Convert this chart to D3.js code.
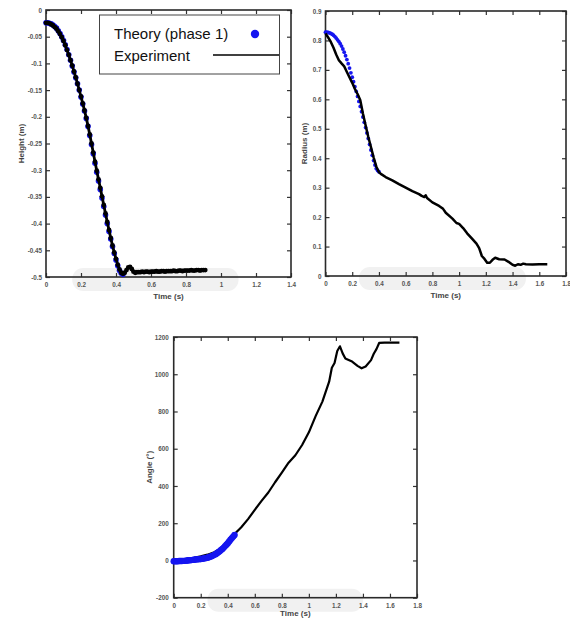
<!DOCTYPE html>
<html>
<head>
<meta charset="utf-8">
<script src="https://cdn.jsdelivr.net/npm/d3@7"></script>
<style>
body { margin: 0; background: #fff; }
text { font-family: "Liberation Sans", Arial, sans-serif; }
</style>
</head>
<body>
<svg id="fig"></svg>
<script>
// ---- data: [time (s), value] ----
var heightTheory = [
  [0,-.024],[.01,-.024],[.02,-.025],[.03,-.026],[.04,-.028],[.05,-.031],[.06,-.034],[.07,-.039],
  [.08,-.044],[.09,-.050],[.10,-.057],[.11,-.065],[.12,-.074],[.13,-.084],[.14,-.094],[.15,-.105],
  [.16,-.116],[.17,-.127],[.18,-.138],[.19,-.150],[.20,-.163],[.21,-.176],[.22,-.189],[.23,-.203],
  [.24,-.218],[.25,-.235],[.26,-.252],[.27,-.269],[.28,-.287],[.29,-.304],[.30,-.320],[.31,-.336],
  [.32,-.352],[.33,-.368],[.34,-.384],[.35,-.400],[.36,-.415],[.37,-.429],[.38,-.443],[.39,-.456],
  [.40,-.468],[.41,-.479],[.42,-.488],[.43,-.493],[.44,-.495]
];
var heightExperiment = [
  [0,-.024],[.01,-.024],[.02,-.025],[.03,-.027],[.04,-.029],[.05,-.032],[.06,-.035],[.07,-.040],
  [.08,-.045],[.09,-.051],[.10,-.058],[.11,-.066],[.12,-.075],[.13,-.084],[.14,-.094],[.15,-.104],
  [.16,-.115],[.17,-.126],[.18,-.138],[.19,-.150],[.20,-.162],[.21,-.175],[.22,-.188],[.23,-.202],
  [.24,-.217],[.25,-.233],[.26,-.250],[.27,-.267],[.28,-.284],[.29,-.301],[.30,-.317],[.31,-.333],
  [.32,-.349],[.33,-.365],[.34,-.381],[.35,-.397],[.36,-.412],[.37,-.427],[.38,-.441],[.39,-.454],
  [.40,-.466],[.41,-.477],[.42,-.486],[.43,-.492],[.44,-.494],[.45,-.492],[.46,-.487],[.47,-.482],
  [.48,-.481],[.49,-.485],[.50,-.490],[.51,-.492],[.52,-.491],[.53,-.491],[.54,-.491],[.55,-.490],
  [.56,-.491],[.57,-.490],[.58,-.490],[.59,-.491],[.60,-.490],[.61,-.490],[.62,-.490],[.63,-.489],
  [.64,-.490],[.65,-.490],[.66,-.489],[.67,-.489],[.68,-.490],[.69,-.489],[.70,-.489],[.71,-.489],
  [.72,-.489],[.73,-.488],[.74,-.489],[.75,-.489],[.76,-.488],[.77,-.488],[.78,-.489],[.79,-.488],
  [.80,-.488],[.81,-.488],[.82,-.488],[.83,-.487],[.84,-.488],[.85,-.488],[.86,-.487],[.87,-.487],
  [.88,-.488],[.89,-.487],[.90,-.487],[.91,-.487]
];

var radiusTheory = [
  [0,.828],[.01,.828],[.02,.827],[.03,.826],[.04,.824],[.05,.821],[.06,.818],[.07,.813],[.08,.808],
  [.09,.802],[.10,.796],[.11,.789],[.12,.781],[.13,.771],[.14,.760],[.15,.748],[.16,.735],[.17,.721],
  [.18,.706],[.19,.690],[.20,.675],[.21,.660],[.22,.643],[.23,.627],[.24,.610],[.25,.593],[.26,.576],
  [.27,.558],[.28,.540],[.29,.522],[.30,.504],[.31,.486],[.32,.467],[.33,.447],[.34,.428],[.35,.410],
  [.36,.392],[.37,.377],[.38,.365],[.39,.358],[.40,.354]
];
var radiusExperiment = [
  [0,.824],[.02,.810],[.04,.795],[.06,.775],[.08,.752],[.10,.733],[.12,.722],[.14,.712],[.16,.693],
  [.18,.674],[.20,.656],[.22,.635],[.24,.618],[.26,.598],[.28,.552],[.30,.512],[.32,.473],[.34,.438],
  [.36,.403],[.38,.372],[.40,.352],[.42,.345],[.45,.336],[.50,.325],[.55,.312],[.60,.300],[.65,.288],
  [.70,.278],[.72,.272],[.74,.268],[.75,.274],[.76,.265],[.80,.250],[.85,.238],[.88,.228],[.90,.215],
  [.95,.195],[.98,.180],[1.0,.177],[1.03,.163],[1.06,.145],[1.10,.125],[1.13,.110],[1.15,.095],
  [1.17,.068],[1.19,.058],[1.21,.045],[1.23,.045],[1.25,.055],[1.27,.062],[1.30,.057],[1.34,.056],
  [1.37,.048],[1.40,.038],[1.42,.035],[1.44,.040],[1.46,.038],[1.48,.042],[1.50,.040],[1.55,.039],
  [1.60,.040],[1.66,.040]
];

var angleTheory = [
  [0,-4],[.01,-4],[.02,-4],[.03,-4],[.04,-3],[.05,-3],[.06,-3],[.07,-2],[.08,-2],[.09,-1],[.10,0],
  [.11,1],[.12,1],[.13,2],[.14,3],[.15,4],[.16,5],[.17,6],[.18,6],[.19,7],[.20,8],[.21,9],[.22,10],
  [.23,12],[.24,13],[.25,15],[.26,17],[.27,20],[.28,23],[.29,26],[.30,30],[.31,34],[.32,39],[.33,44],
  [.34,50],[.35,56],[.36,62],[.37,69],[.38,77],[.39,85],[.40,93],[.41,102],[.42,111],[.43,120],
  [.44,128],[.45,137]
];
var angleExperiment = [
  [0,5],[.05,6],[.10,9],[.15,14],[.20,22],[.25,31],[.30,44],[.35,65],[.40,99],[.45,142],[.50,178],
  [.55,222],[.60,272],[.65,320],[.70,365],[.75,420],[.80,472],[.85,525],[.90,565],[.95,620],
  [1.0,688],[1.05,775],[1.10,853],[1.15,960],[1.17,1035],[1.19,1060],[1.21,1125],[1.23,1150],
  [1.25,1112],[1.27,1085],[1.29,1078],[1.32,1068],[1.36,1045],[1.39,1032],[1.42,1042],[1.46,1076],
  [1.48,1110],[1.50,1135],[1.52,1168],[1.56,1170],[1.60,1170],[1.67,1170]
];

var timeTicksShort = [0, 0.2, 0.4, 0.6, 0.8, 1, 1.2, 1.4];
var timeTicksLong = [0, 0.2, 0.4, 0.6, 0.8, 1, 1.2, 1.4, 1.6, 1.8];
var heightTicks = [0, -0.05, -0.1, -0.15, -0.2, -0.25, -0.3, -0.35, -0.4, -0.45, -0.5];
var radiusTicks = [0, 0.1, 0.2, 0.3, 0.4, 0.5, 0.6, 0.7, 0.8, 0.9];
var angleTicks = [-200, 0, 200, 400, 600, 800, 1000, 1200];

var legendLabels = ["Theory (phase 1)", "Experiment"];

var svg = d3.select("#fig")
    .attr("width", 570)
    .attr("height", 618);

function drawPanel(p) {
    var x = d3.scaleLinear().domain(p.xDomain).range([p.left, p.right]);
    var y = d3.scaleLinear().domain(p.yDomain).range([p.bottom, p.top]);
    var g = svg.append("g");

    // faint grey band under the time axis (as in the scanned figure)
    g.append("rect")
        .attr("x", x(p.band[0]))
        .attr("width", x(p.band[1]) - x(p.band[0]))
        .attr("y", p.bottom - 9)
        .attr("height", 23)
        .attr("rx", 11)
        .attr("fill", "#f1f1f1");

    var axes = [
        {ax: d3.axisBottom(x).tickValues(p.xTicks), t: "translate(0," + p.bottom + ")", lab: true},
        {ax: d3.axisTop(x).tickValues(p.xTicks), t: "translate(0," + p.top + ")", lab: false},
        {ax: d3.axisLeft(y).tickValues(p.yTicks), t: "translate(" + p.left + ",0)", lab: true},
        {ax: d3.axisRight(y).tickValues(p.yTicks), t: "translate(" + p.right + ",0)", lab: false}
    ];
    axes.forEach(function (a, i) {
        a.ax.tickSizeInner(-4).tickSizeOuter(0)
            .tickPadding(i === 2 ? p.yPad : 6)
            .tickFormat(a.lab ? function (d) { return String(d); } : "");
        var ag = g.append("g").attr("transform", a.t).call(a.ax);
        ag.select(".domain").remove();
        ag.selectAll(".tick line").attr("stroke", "#333").attr("stroke-width", 1.2);
        ag.selectAll(".tick text")
            .attr("fill", "#555")
            .attr("font-size", 6.3)
            .attr("font-weight", "bold");
    });

    g.append("rect")
        .attr("x", p.left).attr("y", p.top)
        .attr("width", p.right - p.left).attr("height", p.bottom - p.top)
        .attr("fill", "none")
        .attr("stroke", "#2a2a2a")
        .attr("stroke-width", 1.6);

    g.append("text")
        .attr("x", (p.left + p.right) / 2)
        .attr("y", p.bottom + p.xLabelDy)
        .attr("text-anchor", "middle")
        .attr("font-size", 8)
        .attr("font-weight", "bold")
        .attr("fill", "#444")
        .text("Time (s)");

    g.append("text")
        .attr("transform", "translate(" + p.yLabelX + "," + ((p.top + p.bottom) / 2) + ") rotate(-90)")
        .attr("text-anchor", "middle")
        .attr("font-size", 8)
        .attr("font-weight", "bold")
        .attr("fill", "#444")
        .text(p.yLabel);

    var line = d3.line()
        .x(function (d) { return x(d[0]); })
        .y(function (d) { return y(d[1]); });

    function drawTheory() {
        if (p.theoryBand) {
            g.append("path")
                .datum(p.theory)
                .attr("d", line)
                .attr("fill", "none")
                .attr("stroke", "#1a1aee")
                .attr("stroke-width", p.theoryBand)
                .attr("stroke-linecap", "round");
        }
        g.selectAll(null)
            .data(p.theory)
            .enter().append("circle")
            .attr("cx", function (d) { return x(d[0]); })
            .attr("cy", function (d) { return y(d[1]); })
            .attr("r", p.dotR)
            .attr("fill", "#1515f0");
    }

    function drawExperiment() {
        g.append("path")
            .datum(p.experiment)
            .attr("d", line)
            .attr("fill", "none")
            .attr("stroke", "#000")
            .attr("stroke-width", p.expWidth)
            .attr("stroke-linejoin", "round");
        if (p.expDotR) {
            g.selectAll(null)
                .data(p.experiment)
                .enter().append("circle")
                .attr("cx", function (d) { return x(d[0]); })
                .attr("cy", function (d) { return y(d[1]); })
                .attr("r", p.expDotR)
                .attr("fill", "#000");
        }
    }

    if (p.expFirst) {
        drawExperiment();
        drawTheory();
    } else {
        drawTheory();
        drawExperiment();
    }
    return g;
}

var heightPanel = drawPanel({
    left: 46, right: 291, top: 10, bottom: 277,
    xDomain: [0, 1.4], yDomain: [-0.5, 0],
    xTicks: timeTicksShort, yTicks: heightTicks, yPad: 4,
    yLabel: "Height (m)", yLabelX: 24, xLabelDy: 22,
    band: [0.15, 1.1],
    theory: heightTheory, experiment: heightExperiment,
    dotR: 2.8, expWidth: 2.8, expDotR: 2.4
});

drawPanel({
    left: 325.5, right: 566, top: 11, bottom: 276,
    xDomain: [0, 1.8], yDomain: [0, 0.9],
    xTicks: timeTicksLong, yTicks: radiusTicks, yPad: 4,
    yLabel: "Radius (m)", yLabelX: 307, xLabelDy: 22,
    band: [0.25, 1.5],
    theory: radiusTheory, experiment: radiusExperiment,
    dotR: 1.9, expWidth: 2.5, expDotR: 0
});

drawPanel({
    left: 173.7, right: 417, top: 337, bottom: 597.7,
    xDomain: [0, 1.8], yDomain: [-200, 1200],
    xTicks: timeTicksLong, yTicks: angleTicks, yPad: 5,
    yLabel: "Angle (\u00b0)", yLabelX: 152, xLabelDy: 18.3,
    band: [0.25, 1.4],
    theory: angleTheory, experiment: angleExperiment,
    dotR: 3.2, theoryBand: 5.5, expWidth: 2.2, expDotR: 0, expFirst: true
});

// legend for the height panel
var legend = heightPanel.append("g");
legend.append("rect")
    .attr("x", 99.5).attr("y", 15)
    .attr("width", 180).attr("height", 59)
    .attr("fill", "#fff")
    .attr("stroke", "#444")
    .attr("stroke-width", 1);
legend.selectAll("text.leg")
    .data(legendLabels)
    .enter().append("text")
    .attr("class", "leg")
    .attr("x", 114)
    .attr("y", function (d, i) { return 39 + i * 22; })
    .attr("font-size", 15)
    .attr("fill", "#111")
    .text(function (d) { return d; });
legend.append("circle")
    .attr("cx", 255).attr("cy", 34).attr("r", 4.2)
    .attr("fill", "#1515f0");
legend.append("line")
    .attr("x1", 213).attr("x2", 279)
    .attr("y1", 55).attr("y2", 55)
    .attr("stroke", "#000")
    .attr("stroke-width", 1.5);
</script>
</body>
</html>
